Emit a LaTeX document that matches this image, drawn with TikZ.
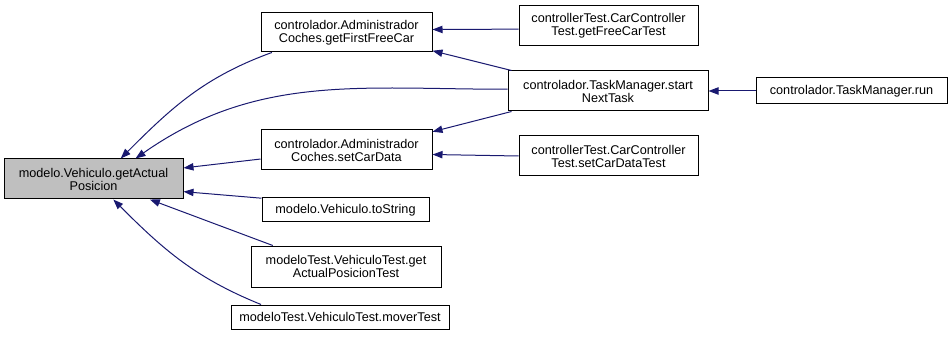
\documentclass[tikz,border=0pt]{standalone}
\usepackage{fontspec}
\setmainfont{Liberation Sans}
\usepackage{xcolor}
\usepackage{tikz}
\usetikzlibrary{arrows.meta}
\definecolor{callblue}{HTML}{191970}
\definecolor{nodegray}{HTML}{BFBFBF}
\tikzset{
box/.style = {rectangle, draw=black, line width=0.75pt, align=center,
              inner sep=0pt, minimum width=#1,
              font=\fontsize{9.5pt}{9.75pt}\selectfont},
box/.default = 134.25pt % box width
}
\tikzset{
call/.style = {draw=callblue, line width=0.75pt,
               -{Triangle[length=7.5pt, width=5.5pt]}}
}

\begin{document}
\begin{tikzpicture}[x=0.75pt, y=-0.75pt]
\useasboundingbox (0,0) rectangle (952,345);

    \node[box, minimum height=30pt, fill=nodegray] (getPos) at (93.5,179) {modelo.Vehiculo.getActual\\Posicion};

    \node[box=128.25pt, minimum height=29.25pt] (firstFree) at (346.5,32.5) {controlador.Administrador\\Coches.getFirstFreeCar};
    \node[box=128.25pt, minimum height=30pt] (setData) at (346.5,150) {controlador.Administrador\\Coches.setCarData};
    \node[box=125.25pt, minimum height=18pt] (toStr) at (345.5,210) {modelo.Vehiculo.toString};
    \node[box=142.5pt, minimum height=30.75pt] (posTest) at (346,266.5) {modeloTest.VehiculoTest.get\\ActualPosicionTest};
    \node[box=163.5pt, minimum height=18pt] (moverTest) at (340,317) {modeloTest.VehiculoTest.moverTest};

    \node[box, minimum height=30pt] (freeTest) at (608.5,26) {controllerTest.CarController\\Test.getFreeCarTest};
    \node[box=150pt, minimum height=30pt] (startTask) at (608,91) {controlador.TaskManager.start\\NextTask};
    \node[box, minimum height=30pt] (dataTest) at (608.5,156) {controllerTest.CarController\\Test.setCarDataTest};

    \node[box=143.25pt, minimum height=19.5pt] (taskRun) at (851.5,91) {controlador.TaskManager.run};

% callers of getActualPosicion
\draw[call] (firstFree.195) to[out=200, in=45] (getPos.37);
\draw[call] (startTask.179) to[out=180, in=35] (getPos.26);
\draw[call] (setData.186) -- (getPos.7);
\draw[call] (toStr.172) -- (getPos.-8);
\draw[call] (posTest.164) -- (getPos.-20);
\draw[call] (moverTest.171) to[out=158, in=-45] (getPos.-46);
% second level
\draw[call] (freeTest.182) -- (firstFree.2);
\draw[call] (startTask.168) -- (firstFree.-12);
\draw[call] (startTask.192) -- (setData.12);
\draw[call] (dataTest.180) -- (setData.-3);
\draw[call] (taskRun) -- (startTask);
\end{tikzpicture}
\end{document}
